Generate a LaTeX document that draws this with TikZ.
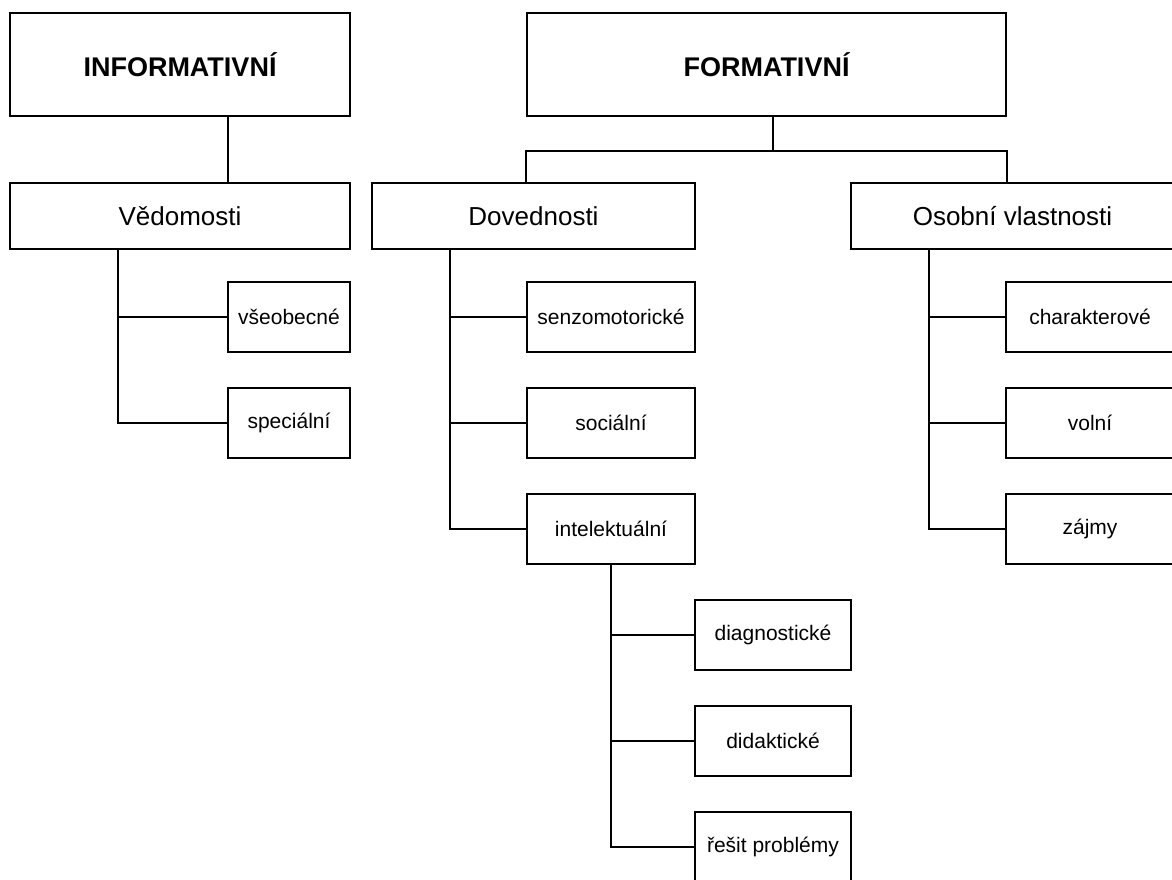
\documentclass[tikz,border=0pt]{standalone}
\usepackage{fontspec}
\setmainfont{Liberation Sans}
\begin{document}
\begin{tikzpicture}[x=1pt,y=-1pt,line width=2.2pt,
	box/.style={draw,rectangle,inner sep=0pt,align=center},
	topbox/.style={box,minimum height=103pt,font=\fontsize{27}{31}\selectfont\bfseries},
	midbox/.style={box,minimum height=66pt,minimum width=323pt,font=\fontsize{26}{30}\selectfont},
	leafbox/.style={box,minimum height=70pt,font=\fontsize{21}{25}\selectfont}]
	\clip (0,0) rectangle (1172,879);
	% Top level
	\node[topbox,minimum width=340pt] (inf) at (180,64.5) {INFORMATIVNÍ};
	\node[topbox,minimum width=479pt] (form) at (766.5,64.5) {FORMATIVNÍ};
	% Second level
	\node[midbox,minimum width=340pt] (ved) at (180,216) {Vědomosti};
	\node[midbox] (dov) at (533.5,216) {Dovednosti};
	\node[midbox] (osob) at (1012.5,216) {Osobní vlastnosti};
	% Leaves
	\node[leafbox,minimum width=122pt] (vse) at (289,317) {všeobecné};
	\node[leafbox,minimum width=122pt] (spec) at (289,423) {speciální};
	\node[leafbox,minimum width=168pt] (senz) at (611,317) {senzomotorické};
	\node[leafbox,minimum width=168pt] (soc) at (611,423) {sociální};
	\node[leafbox,minimum width=168pt] (intel) at (611,529) {intelektuální};
	\node[leafbox,minimum width=156pt] (diag) at (773,635) {diagnostické};
	\node[leafbox,minimum width=156pt] (dida) at (773,741) {didaktické};
	\node[leafbox,minimum width=156pt] (resit) at (773,847) {řešit problémy};
	\node[leafbox,minimum width=168pt] (char) at (1090,317) {charakterové};
	\node[leafbox,minimum width=168pt] (voln) at (1090,423) {volní};
	\node[leafbox,minimum width=168pt] (zajm) at (1090,529) {zájmy};
	% Connectors
	\draw ([xshift=48pt]inf.south) -- ([xshift=48pt]ved.north);
	\coordinate (fj) at (773,151);
	\draw (form.south -| fj) -- (fj);
	\draw (dov.north -| form.west) |- (fj) -| (osob.north -| form.east);
	\foreach \n in {vse,spec}
		\draw ([xshift=-62pt]ved.south) |- (\n.west);
	\foreach \n in {senz,soc,intel}
		\draw ([xshift=-83.5pt]dov.south) |- (\n.west);
	\foreach \n in {diag,dida,resit}
		\draw (intel.south) |- (\n.west);
	\foreach \n in {char,voln,zajm}
		\draw ([xshift=-83.5pt]osob.south) |- (\n.west);
\end{tikzpicture}
\end{document}
